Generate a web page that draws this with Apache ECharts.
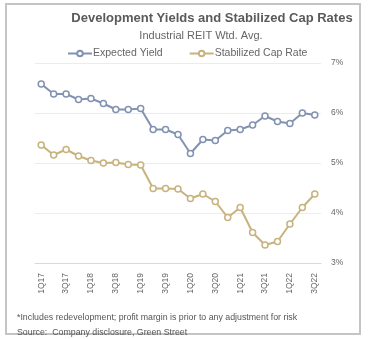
<!DOCTYPE html>
<html><head><meta charset="utf-8">
<script src="https://cdn.jsdelivr.net/npm/echarts@6/dist/echarts.min.js"></script>
<style>html,body{margin:0;padding:0;background:#fff}#c{width:368px;height:339px}</style>
</head><body><div id="c"></div>
<script>
const categories = ['1Q17','2Q17','3Q17','4Q17','1Q18','2Q18','3Q18','4Q18','1Q19','2Q19','3Q19','4Q19','1Q20','2Q20','3Q20','4Q20','1Q21','2Q21','3Q21','4Q21','1Q22','2Q22','3Q22'];
const expectedYield = [6.58,6.38,6.38,6.27,6.29,6.19,6.07,6.07,6.09,5.67,5.67,5.57,5.19,5.47,5.45,5.65,5.67,5.76,5.94,5.83,5.79,6.00,5.96];
const capRate = [5.36,5.16,5.27,5.14,5.05,5.00,5.01,4.97,4.96,4.49,4.49,4.48,4.29,4.38,4.23,3.91,4.11,3.61,3.36,3.43,3.78,4.11,4.38];
const yTicks = [3,4,5,6,7];

const chart = echarts.init(document.getElementById('c'), null, {renderer:'canvas'});
const blue = '#8292b2', gold = '#c8b27e';
chart.setOption({
  animation:false,
  backgroundColor:'#fff',
  graphic:[{type:'rect', shape:{x:6,y:4,width:354,height:330}, style:{fill:'none', stroke:'#c4c4c4', lineWidth:2}}],
  title:[{text:'Development Yields and Stabilized Cap Rates', left:207, textAlign:'center', top:7,
          textStyle:{fontFamily:'Liberation Sans', fontSize:13, fontWeight:'bold', color:'#5a5a5a'}},
         {text:'Industrial REIT Wtd. Avg.', left:196, textAlign:'center', top:25,
          textStyle:{fontFamily:'Liberation Sans', fontSize:11, fontWeight:'normal', color:'#666'}},
         {text:'*Includes redevelopment; profit margin is prior to any adjustment for risk', left:12, top:308,
          textStyle:{fontFamily:'Liberation Sans', fontSize:8.8, fontWeight:'normal', color:'#555'}},
         {text:'Source:  Company disclosure, Green Street', left:12, top:323,
          textStyle:{fontFamily:'Liberation Sans', fontSize:8.8, fontWeight:'normal', color:'#555'}}],
  legend:{top:43, left:62, itemGap:26, itemWidth:24, itemHeight:7,
          textStyle:{fontFamily:'Liberation Sans', fontSize:10.5, color:'#666', padding:[0,0,0,-4]},
          data:['Expected Yield','Stabilized Cap Rate']},
  grid:{left:35, right:47, top:63, bottom:76},
  xAxis:{type:'category', data:categories, boundaryGap:true,
         axisLine:{lineStyle:{color:'#d9d9d9'}}, axisTick:{show:false},
         axisLabel:{interval:1, rotate:90, fontFamily:'Liberation Sans', fontSize:8.5, color:'#666', margin:10}},
  yAxis:{type:'value', position:'right', min:yTicks[0], max:yTicks[yTicks.length-1], interval:1,
         axisLine:{show:false}, axisTick:{show:false},
         splitLine:{lineStyle:{color:'#ececec'}},
         axisLabel:{formatter:'{value}%', fontFamily:'Liberation Sans', fontSize:8.5, color:'#666', margin:10}},
  series:[
    {name:'Expected Yield', type:'line', data:expectedYield, symbol:'circle', symbolSize:6,
     lineStyle:{color:blue, width:2}, itemStyle:{color:'#fff', borderColor:blue, borderWidth:1.5}},
    {name:'Stabilized Cap Rate', type:'line', data:capRate, symbol:'circle', symbolSize:6,
     lineStyle:{color:gold, width:2}, itemStyle:{color:'#fff', borderColor:gold, borderWidth:1.5}}
  ]
});
</script></body></html>
